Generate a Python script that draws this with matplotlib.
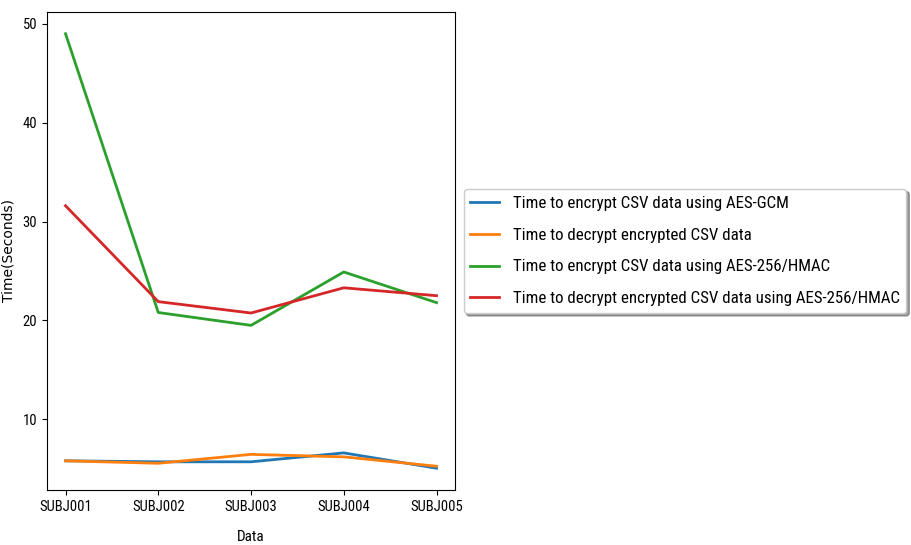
import matplotlib
matplotlib.use("Agg")
import matplotlib.pyplot as plt

# values
subjects = ["SUBJ001", "SUBJ002", "SUBJ003", "SUBJ004", "SUBJ005"]
gcm_encrypt = [5.8, 5.7, 5.7, 6.6, 5.05]
gcm_decrypt = [5.8, 5.55, 6.45, 6.2, 5.25]
hmac_encrypt = [49.0, 20.8, 19.5, 24.9, 21.8]
hmac_decrypt = [31.6, 21.9, 20.75, 23.3, 22.5]

labels = [
    "Time to encrypt CSV data using AES-GCM",
    "Time to decrypt encrypted CSV data",
    "Time to encrypt CSV data using AES-256/HMAC",
    "Time to decrypt encrypted CSV data using AES-256/HMAC",
]

narrow = ["Roboto Condensed", "Liberation Sans Narrow", "DejaVu Sans Condensed",
          "Noto Sans Condensed", "DejaVu Sans"]
plt.rcParams["font.family"] = narrow
plt.rcParams["font.stretch"] = "condensed"
plt.rcParams["font.size"] = 11.5

fig = plt.figure(figsize=(9.12, 5.45), dpi=100)
ax = fig.add_axes([0.0515, 0.101, 0.4475, 0.877])

for series, lab in zip([gcm_encrypt, gcm_decrypt, hmac_encrypt, hmac_decrypt], labels):
    ax.plot(subjects, series, label=lab, lw=2)

ax.tick_params(labelsize=10.5)
ax.set_xlabel("Data", fontsize=11)
ax.xaxis.set_label_coords(0.5, -0.083)
ax.set_ylabel("Time(Seconds)", family="DejaVu Sans", stretch="normal", fontsize=10)
ax.yaxis.set_label_coords(-0.078, 0.5)
ax.legend(loc="center left", bbox_to_anchor=(1, 0.5), shadow=True,
          fontsize=12.2, labelspacing=1.0, handlelength=1.7)

fig.savefig("out.png", dpi=100)
